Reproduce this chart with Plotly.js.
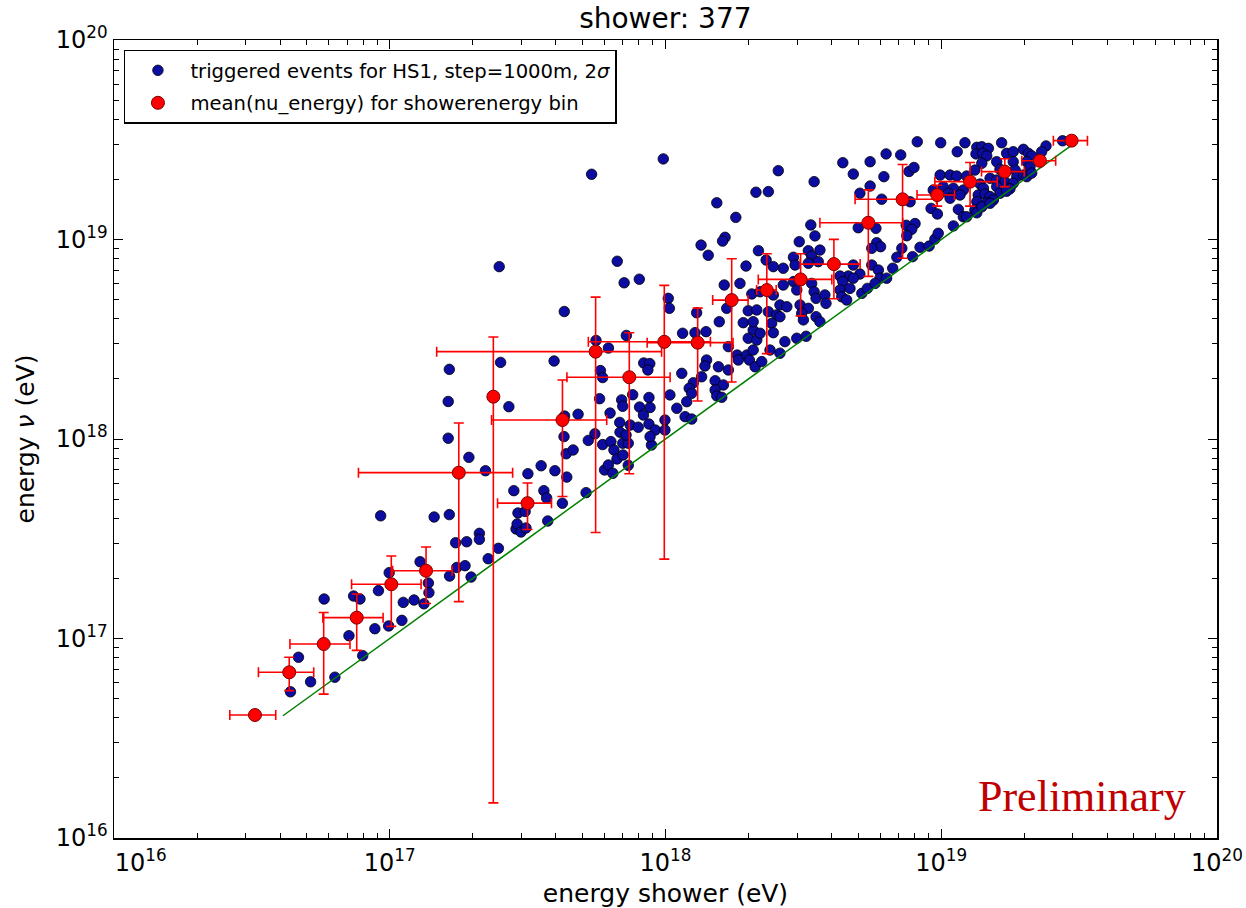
<!DOCTYPE html>
<html><head><meta charset="utf-8">
<script src="https://cdn.plot.ly/plotly-3.0.1.min.js"></script>
<style>html,body{margin:0;padding:0;background:#fff}</style>
</head><body><div id="chart" style="width:1246px;height:908px"></div>
<script>
// triggered events (log10 of energies in eV)
const eventShowerLog10 = [
16.640,16.669,16.713,16.801,16.902,16.852,16.762,16.869,16.892,16.946,16.959,16.996,16.998,17.044,17.049,17.088,17.124,17.110,17.140,17.142,
16.967,17.161,17.216,17.239,17.279,17.243,17.273,17.217,17.295,17.212,17.287,17.216,17.212,
17.402,17.432,17.397,17.596,17.633,17.347,17.325,17.325,17.394,17.357,17.501,17.549,17.599,17.642,17.450,17.559,17.569,17.465,17.491,17.458,17.462,17.476,17.494,17.573,17.626,17.712,
17.748,17.793,17.858,17.634,17.683,17.632,17.640,17.665,17.720,17.744,17.772,17.764,17.772,17.761,17.799,17.841,17.845,17.834,17.802,17.845,17.865,17.813,17.824,17.846,17.779,17.793,17.809,17.835,17.857,17.881,17.906,17.920,17.944,17.940,17.872,17.940,17.963,17.901,17.921,17.943,17.936,17.949,17.944,17.865,
17.998,17.998,18.041,18.016,18.077,18.071,18.095,18.059,18.101,18.086,18.095,18.131,18.180,18.210,18.180,18.186,18.204,18.062,18.107,18.147,18.149,18.143,18.192,18.228,18.228,18.260,18.264,18.295,18.318,18.304,18.325,
18.010,18.014,18.113,18.195,18.222,18.300,18.313,18.282,18.318,18.300,18.331,18.213,18.270,18.129,18.155,18.216,18.207,18.186,18.255,18.328,18.337,18.292,17.825,17.850,17.905,17.732,17.992,
18.409,18.539,18.373,18.643,18.742,18.800,18.853,18.681,18.792,18.742,18.705,18.784,18.527,18.542,18.699,18.763,18.485,18.518,18.560,18.530,18.464,18.365,18.766,18.780,18.748,18.839,
18.391,18.427,18.470,18.518,18.554,18.681,18.705,18.663,18.748,18.772,18.778,18.824,18.802,18.343,18.427,18.391,18.464,18.476,18.530,18.539,18.633,18.643,18.681,18.633,18.669,18.712,18.732,18.760,
18.546,18.578,18.582,18.639,18.657,18.331,18.373,18.415,18.440,18.403,18.488,18.518,18.494,18.318,18.385,18.415,18.500,18.546,18.560,18.343,18.391,18.433,18.476,18.510,18.379,18.415,18.349,
18.883,18.901,18.887,18.963,18.986,18.873,18.905,18.893,18.875,18.923,18.956,18.977,18.989,18.896,18.857,18.971,
18.913,18.998,19.086,19.058,19.129,19.147,19.171,19.126,19.150,19.165,19.219,19.237,19.261,19.298,19.316,19.328,19.380,19.364,19.440,
19.147,19.122,19.201,19.213,19.261,19.268,19.310,19.322,18.996,19.032,19.056,19.092,19.177,19.201,19.274,19.298,19.231,19.261,19.310,19.328,
19.141,19.153,19.201,19.213,19.249,19.237,19.134,19.159,19.177,19.129,19.165,19.189,19.007,19.044,19.080,19.026,19.068,19.032,19.062,19.080,19.122,19.129,19.092,19.147,19.177,19.044
];
const eventNuLog10 = [
16.733,16.906,16.783,16.806,16.914,17.014,17.198,17.213,17.198,17.049,17.240,17.063,17.330,17.091,17.181,17.193,17.174,17.385,17.278,17.230,
17.615,17.609,17.621,17.480,17.485,17.356,17.365,17.313,17.308,18.004,17.908,18.349,18.188,
18.384,18.162,18.864,18.391,18.639,17.841,17.527,17.497,17.452,17.400,17.826,17.866,17.841,17.809,17.741,17.741,17.704,17.629,17.637,17.549,17.574,17.534,17.554,17.589,17.678,17.731,
18.494,18.456,18.519,18.115,18.124,18.012,17.926,17.945,17.993,18.026,17.972,18.343,18.308,18.202,18.130,18.196,18.164,18.083,17.987,17.979,17.979,17.945,17.900,17.920,17.845,17.870,17.828,18.034,18.020,18.222,18.160,18.120,18.158,18.208,18.070,18.075,18.045,18.059,18.381,18.378,18.346,17.970,18.012,17.868,
18.095,18.045,18.154,18.221,18.187,18.112,18.100,18.329,18.282,18.254,18.229,18.312,18.292,18.271,18.246,18.216,18.209,18.530,18.533,18.538,18.396,18.366,18.362,18.346,18.463,18.421,18.396,18.421,18.446,18.396,18.362,
18.705,18.655,18.633,18.588,18.655,18.643,18.727,18.583,18.546,18.505,18.496,18.772,18.780,18.972,18.921,19.011,18.992,19.184,19.111,19.237,18.944,18.867,18.891,18.783,18.801,19.327,19.404,
19.345,19.290,19.240,19.385,19.390,19.429,19.424,19.328,19.315,19.268,19.232,19.202,19.073,19.018,19.059,19.056,18.989,18.944,18.947,18.917,18.911,18.897,18.984,18.964,18.956,18.911,
18.864,18.856,18.872,18.881,18.889,18.872,18.827,18.817,18.872,18.847,18.806,18.856,18.806,18.738,18.772,18.722,18.789,18.747,18.780,18.738,18.817,18.789,18.806,18.747,18.755,18.730,18.755,18.780,
18.705,18.722,18.680,18.713,18.697,18.647,18.638,18.672,18.663,18.622,18.672,18.655,18.630,18.588,18.580,18.613,18.597,18.613,18.588,18.530,18.533,18.488,18.505,18.515,18.446,18.430,18.388,
19.341,19.361,19.189,19.156,19.128,19.071,19.080,19.051,19.019,18.961,18.967,19.002,19.031,18.914,18.956,19.248,
19.490,19.485,19.485,19.440,19.462,19.465,19.457,19.429,19.432,19.419,19.485,19.432,19.440,19.452,19.432,19.419,19.469,19.440,19.495,
19.382,19.348,19.390,19.352,19.390,19.348,19.390,19.365,19.323,19.323,19.318,19.318,19.307,19.298,19.315,19.323,19.290,19.282,19.315,19.333,
19.278,19.257,19.265,19.232,19.254,19.242,19.223,19.228,19.215,19.189,19.184,19.198,19.265,19.257,19.248,19.232,19.223,19.207,19.151,19.114,19.148,19.134,19.114,19.164,19.182,19.068
];

// mean(nu_energy) per shower-energy bin, with standard deviations (eV)
const binShower    = [3.245e16,4.32e16,5.76e16,7.59e16,1.013e17,1.354e17,1.78e17,2.375e17,3.16e17,4.23e17,5.58e17,7.39e17,9.9e17,1.308e18,1.738e18,2.33e18,3.09e18,4.08e18,5.44e18,7.24e18,9.67e18,1.272e19,1.70e19,2.28e19,2.97e19];
const binNu        = [4.135e16,6.77e16,9.385e16,1.272e17,1.87e17,2.187e17,6.78e17,1.63e18,4.77e17,1.245e18,2.74e18,2.04e18,3.07e18,3.04e18,4.97e18,5.58e18,6.31e18,7.53e18,1.213e19,1.59e19,1.67e19,1.95e19,2.19e19,2.48e19,3.13e19];
const binShowerStd = [6.15e15,9.8e15,1.415e16,1.87e16,2.86e16,3.3e16,1.01e17,4e15,7.0e16,1.89e17,4.1e17,3.0e17,4.65e17,4.5e17,2.55e17,1.9e17,9.2e17,1.0e18,1.81e18,2.37e18,1.5e18,3.24e18,3.0e18,3.2e18,4.2e18];
const binNuStd     = [0,1.29e16,4.12e16,4.0e16,7.2e16,6.9e16,5.25e17,1.615e18,1.25e17,7.3e17,2.4e18,1.37e18,2.82e18,1.49e18,3.04e18,2.9e18,2.17e18,2.48e18,5.6e18,7.85e18,2.0e18,4.8e18,3.5e18,1.0e18,0];

// reference line E_nu = E_shower
const diagonalEnergy = [4.1e16, 3.0e19];

const tickValues = [1e16, 1e17, 1e18, 1e19, 1e20];
const yTickLabels = ['10<sup>16</sup>','10<sup>17</sup>','10<sup>18</sup>','10<sup>19</sup>','10<sup>20</sup>'];
const xTickLabels = ['\u00a0\u00a0\u00a0\u00a0\u00a0\u00a0\u00a010<sup>16</sup>','10<sup>17</sup>','10<sup>18</sup>','10<sup>19</sup>','10<sup>20</sup>'];

const FONT = 'DejaVu Sans, sans-serif';

const traces = [
  {
    type: 'scatter', mode: 'markers', legendgroup: 'events',
    name: 'triggered events for HS1, step=1000m, 2<i>σ</i>',
    x: eventShowerLog10.map(v => Math.pow(10, v)),
    y: eventNuLog10.map(v => Math.pow(10, v)),
    marker: {color: '#0c0ca0', size: 10.5, line: {color: '#000000', width: 0.8}},
    hoverinfo: 'x+y'
  },
  {
    type: 'scatter', mode: 'lines', showlegend: false,
    x: diagonalEnergy, y: diagonalEnergy,
    line: {color: '#008000', width: 1.5}
  },
  {
    type: 'scatter', mode: 'markers', legendgroup: 'bins',
    name: 'mean(nu_energy) for showerenergy bin',
    x: binShower, y: binNu,
    error_x: {type: 'data', array: binShowerStd, visible: true, color: '#ff0000', thickness: 1.6, width: 5},
    error_y: {type: 'data', array: binNuStd, visible: true, color: '#ff0000', thickness: 1.6, width: 5},
    marker: {color: '#ff0000', size: 13, line: {color: '#7a0000', width: 1}}
  }
];

function axis(extra) {
  return Object.assign({
    type: 'log', range: [16, 20], autorange: false,
    tickmode: 'array', tickvals: tickValues,
    ticks: 'inside', ticklen: 9, tickwidth: 1, tickcolor: '#000',
    showline: true, linecolor: '#000', linewidth: 1.5, mirror: 'allticks',
    showgrid: false, zeroline: false,
    tickfont: {family: FONT, size: 24, color: '#000'},
    minor: {ticks: 'inside', ticklen: 5, tickwidth: 1, tickcolor: '#000', dtick: 'D1', showgrid: false}
  }, extra);
}

const layout = {
  width: 1246, height: 908,
  margin: {l: 114, r: 29, t: 40, b: 70, pad: 0},
  paper_bgcolor: '#fff', plot_bgcolor: '#fff',
  font: {family: FONT, color: '#000'},
  title: {text: 'shower: 377', font: {family: FONT, size: 28, color: '#000'}, x: 0.534, xanchor: 'center', y: 0.98, yanchor: 'middle'},
  xaxis: axis({ticktext: xTickLabels, ticklabelstandoff: 3, title: {text: 'energy shower (eV)', font: {family: FONT, size: 25, color: '#000'}, standoff: 10}}),
  yaxis: axis({ticktext: yTickLabels, title: {text: 'energy <i>ν</i> (eV)', font: {family: FONT, size: 25, color: '#000'}, standoff: 14}}),
  showlegend: true,
  legend: {
    x: 0.009, y: 0.988, xanchor: 'left', yanchor: 'top',
    bgcolor: '#fff', bordercolor: '#000', borderwidth: 1.5,
    font: {family: FONT, size: 19.6, color: '#000'},
    itemwidth: 55, tracegroupgap: 4, traceorder: 'grouped'
  },
  annotations: [{
    xref: 'paper', yref: 'paper', x: 0.974, y: 0.052, xanchor: 'right', yanchor: 'middle',
    text: 'Preliminary', showarrow: false,
    font: {family: 'Liberation Serif, serif', size: 44, color: '#c00000'}
  }]
};

Plotly.newPlot('chart', traces, layout, {displayModeBar: false, staticPlot: true});
</script>
</body></html>
